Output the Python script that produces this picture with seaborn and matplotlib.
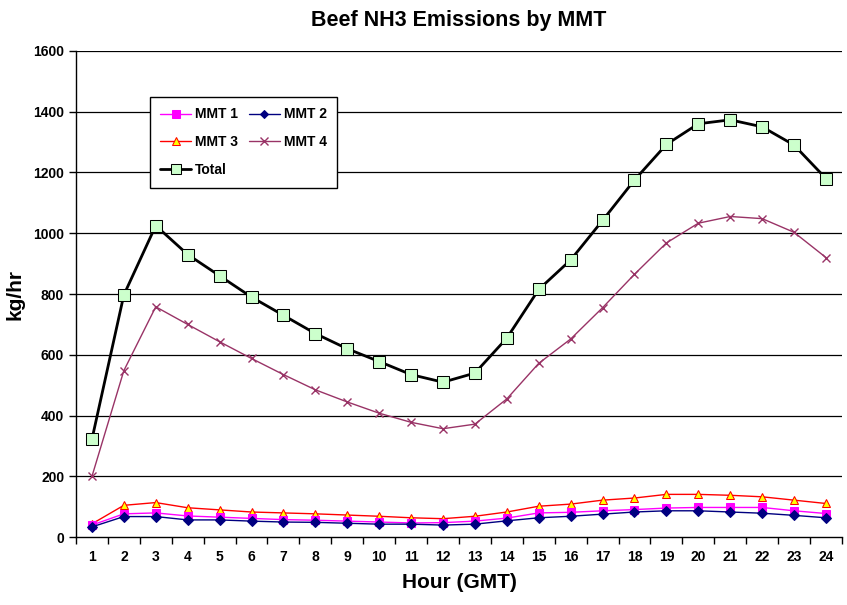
import pandas as pd
import numpy as np
import seaborn as sns
import matplotlib.pyplot as plt

hours = list(range(1, 25))
mmt1 = [40, 77, 80, 70, 66, 62, 58, 56, 53, 50, 47, 48,
        53, 63, 80, 82, 87, 91, 96, 98, 98, 98, 87, 78]
mmt2 = [34, 68, 68, 57, 57, 53, 50, 49, 46, 43, 43, 40,
        43, 54, 64, 69, 76, 83, 87, 87, 83, 79, 72, 64]
mmt3 = [44, 105, 114, 97, 90, 83, 80, 77, 73, 69, 64, 61,
        69, 83, 102, 109, 122, 129, 141, 141, 138, 133, 122, 111]
mmt4 = [200, 548, 758, 700, 643, 588, 535, 485, 445, 408, 378, 357,
        372, 455, 572, 652, 755, 865, 968, 1033, 1055, 1048, 1003, 920]
total = [322, 797, 1025, 930, 860, 790, 730, 670, 620, 578, 535, 510,
         540, 655, 815, 912, 1042, 1175, 1292, 1360, 1373, 1350, 1290, 1180]


def main():
    sns.set_style("white")
    plt.rcParams['font.family'] = ['Liberation Sans', 'DejaVu Sans']
    plt.rcParams['font.weight'] = 'bold'
    for k in ['text.color', 'axes.labelcolor', 'xtick.color', 'ytick.color']:
        plt.rcParams[k] = 'black'

    df = pd.DataFrame({'hour': hours, 'MMT 1': mmt1, 'MMT 2': mmt2,
                       'MMT 3': mmt3, 'MMT 4': mmt4, 'Total': total})

    fig, ax = plt.subplots(figsize=(8.47, 6.05), dpi=100)
    fig.subplots_adjust(left=0.0897, right=0.994, bottom=0.112, top=0.916)

    # horizontal grid like the Excel original
    for v in range(200, 1601, 200):
        ax.axhline(v, color='black', lw=0.9, zorder=0)

    styles = {
        'MMT 1': dict(color='#FF00FF', marker='s', markersize=6,
                      markerfacecolor='#FF00FF', markeredgecolor='#FF00FF', lw=1),
        'MMT 3': dict(color='#FF0000', marker='^', markersize=6,
                      markerfacecolor='#FFFF00', markeredgecolor='#FF0000', lw=1),
        'Total': dict(color='black', marker='s', markersize=9,
                      markerfacecolor='#CCFFCC', markeredgecolor='black', lw=2),
        'MMT 2': dict(color='#000080', marker='D', markersize=5,
                      markerfacecolor='#000080', markeredgecolor='#000080', lw=1),
        'MMT 4': dict(color='#993366', marker='x', markersize=6,
                      markerfacecolor='#993366', markeredgecolor='#993366', lw=1,
                      mew=1),
    }
    draw_order = ['MMT 4', 'MMT 3', 'MMT 1', 'MMT 2', 'Total']
    for name in draw_order:
        sns.lineplot(data=df, x='hour', y=name, ax=ax, label=name, **styles[name])

    ax.set_xlim(0.5, 24.5)
    ax.set_ylim(0, 1600)
    ax.set_yticks(range(0, 1601, 200))
    ax.set_xticks(hours)
    ax.set_xticks(np.arange(0.5, 25, 1), minor=True)
    ax.tick_params(axis='x', which='major', length=0, labelsize=10, pad=9)
    ax.tick_params(axis='x', which='minor', length=5, width=1, direction='out', bottom=True)
    ax.tick_params(axis='y', length=5, width=1, direction='out', left=True, labelsize=10)
    for lab in ax.get_xticklabels() + ax.get_yticklabels():
        lab.set_fontweight('bold')

    for s in ['top', 'right']:
        ax.spines[s].set_visible(False)
    for s in ['left', 'bottom']:
        ax.spines[s].set_color('black')
        ax.spines[s].set_linewidth(1)

    ax.set_title('Beef NH3 Emissions by MMT', fontsize=15.5, fontweight='bold', pad=18)
    ax.set_xlabel('Hour (GMT)', fontsize=15, fontweight='bold', labelpad=7)
    ax.set_ylabel('kg/hr', fontsize=15, fontweight='bold', labelpad=6)

    handles, labels = ax.get_legend_handles_labels()
    order = ['MMT 1', 'MMT 3', 'Total', 'MMT 2', 'MMT 4']
    hmap = dict(zip(labels, handles))
    leg = ax.legend([hmap[k] for k in order], order, ncol=2, loc='upper left',
                    bbox_to_anchor=(0.0966, 0.905), borderaxespad=0,
                    frameon=True, fancybox=False,
                    edgecolor='black', framealpha=1, prop={'weight': 'bold', 'size': 10},
                    handlelength=2.2, handletextpad=0.3, columnspacing=0.8,
                    labelspacing=1.0, borderpad=0.75, markerscale=0.85)
    leg.get_frame().set_linewidth(1)

    fig.savefig('out.png', dpi=100)


if __name__ == '__main__':
    main()
